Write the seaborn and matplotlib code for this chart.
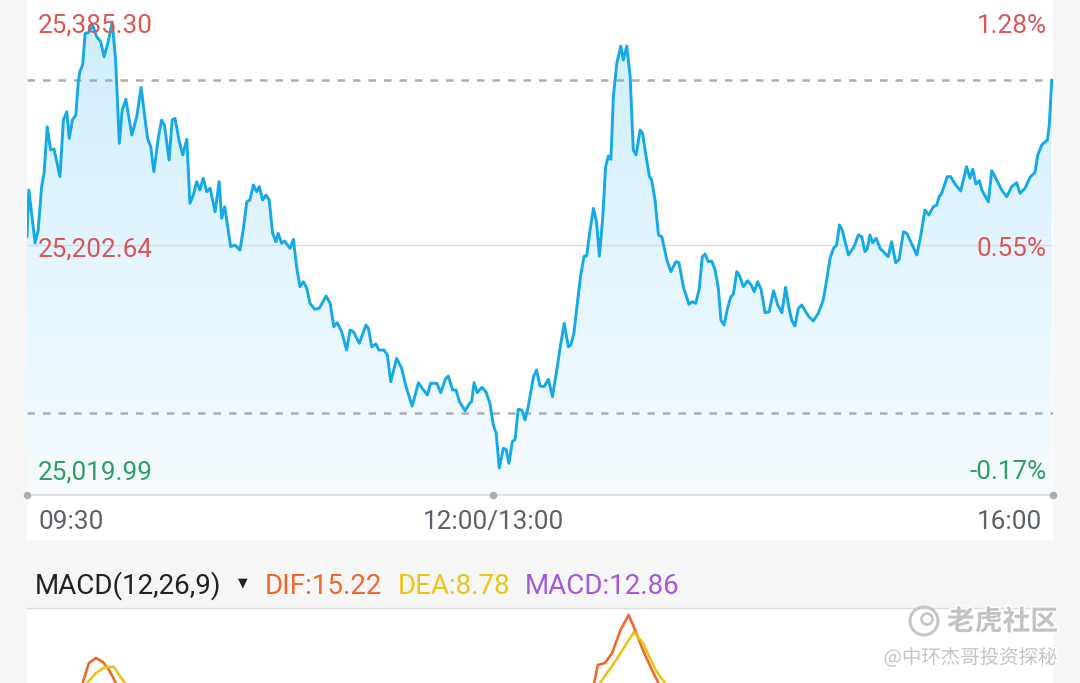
import numpy as np
import pandas as pd
import matplotlib
matplotlib.use("Agg")
import matplotlib.pyplot as plt
import seaborn as sns
from matplotlib.patches import Rectangle, PathPatch, Ellipse
from matplotlib.colors import LinearSegmentedColormap
import matplotlib.patheffects as pe

# ---------------- data ----------------
# minutes since 09:30 (lunch break removed: 150 = 12:00/13:00, 330 = 16:00)
minutes = [0.0, 0.6, 2.6, 3.6, 4.7, 5.5, 6.5, 7.6, 8.7, 10.6, 11.7, 12.8, 13.6, 14.6, 15.7,
           16.5, 17.0, 17.9, 18.7, 19.7, 21.1, 22.4, 23.7, 24.8, 26.0, 27.4, 28.5, 29.7, 30.6,
           31.8, 33.7, 35.3, 36.7, 38.0, 38.8, 39.8, 40.8, 42.2, 43.3, 44.2, 45.7, 46.7, 47.6,
           49.0, 50.1, 51.4, 52.4, 53.5, 54.6, 55.6, 56.7, 57.8, 58.9, 60.5, 61.8, 62.6, 63.6,
           65.5, 66.9, 68.5, 69.6, 70.7, 71.7, 72.8, 73.9, 74.7, 75.8, 76.9, 77.9, 79.0, 80.1,
           80.8, 81.9, 82.8, 84.6, 85.7, 86.7, 87.8, 88.9, 90.0, 91.0, 92.6, 94.0, 96.2, 97.5,
           98.7, 99.8, 101.2, 102.8, 103.9, 105.0, 106.9, 109.0, 109.8, 110.9, 112.2, 113.2,
           114.8, 115.9, 117.0, 118.9, 120.5, 121.9, 123.9, 125.9, 127.5, 128.8, 129.8, 131.8,
           133.1, 134.5, 135.5, 136.9, 138.0, 139.1, 140.9, 142.5, 143.0, 143.8, 144.8, 146.3,
           147.6, 148.9, 150.0, 150.9, 151.9, 153.2, 154.1, 155.0, 156.1, 157.0, 158.0, 159.1,
           160.2, 161.2, 162.9, 163.9, 165.0, 166.3, 167.7, 169.0, 170.4, 171.7, 172.8, 174.1,
           174.9, 175.9, 177.0, 178.1, 179.2, 180.0, 181.1, 182.2, 183.2, 184.1, 185.2, 186.1,
           187.0, 187.8, 188.6, 189.7, 191.0, 191.8, 192.9, 194.0, 195.0, 195.9, 197.2, 198.0,
           198.8, 200.2, 200.9, 202.0, 203.1, 204.2, 205.8, 207.1, 208.7, 209.7, 211.1, 212.9,
           214.0, 215.1, 216.2, 217.2, 218.1, 219.1, 220.2, 221.3, 222.4, 223.2, 224.2, 225.3,
           226.4, 227.2, 228.3, 229.1, 230.4, 231.8, 232.9, 233.9, 235.0, 236.1, 237.4, 238.7,
           240.1, 241.5, 242.8, 244.0, 245.1, 246.0, 247.0, 248.1, 249.2, 251.3, 252.9, 254.5,
           256.1, 257.2, 258.3, 259.4, 260.4, 261.3, 262.2, 264.2, 266.0, 267.4, 268.5, 269.5,
           270.3, 271.1, 272.0, 273.1, 274.4, 277.0, 278.1, 279.4, 280.5, 281.9, 283.0, 286.2,
           287.5, 288.8, 290.1, 291.5, 292.6, 293.4, 294.2, 296.0, 297.1, 298.5, 300.3, 302.2,
           303.3, 304.2, 305.2, 306.3, 307.1, 309.2, 310.3, 311.9, 313.5, 315.1, 316.7, 318.3,
           319.4, 321.0, 322.6, 324.2, 325.1, 326.4, 328.2, 328.8, 329.6]
prices = [25209.4, 25247.7, 25204.3, 25214.9, 25250.4, 25261.6, 25299.5, 25280.5, 25281.3,
          25258.6, 25305.0, 25311.8, 25290.0, 25305.0, 25309.1, 25336.4, 25344.6, 25350.1,
          25376.0, 25376.5, 25382.8, 25373.3, 25369.2, 25356.9, 25367.9, 25385.3, 25354.2,
          25285.9, 25313.2, 25322.0, 25292.7, 25307.7, 25331.8, 25305.0, 25290.0, 25283.2,
          25262.7, 25290.0, 25305.0, 25300.9, 25272.3, 25305.0, 25306.4, 25287.3, 25276.4,
          25289.2, 25236.8, 25243.6, 25254.5, 25247.7, 25257.3, 25246.3, 25249.1, 25229.9,
          25254.5, 25224.5, 25234.0, 25201.3, 25202.6, 25198.5, 25216.3, 25238.1, 25239.5,
          25251.8, 25246.3, 25250.4, 25239.5, 25243.6, 25239.5, 25212.2, 25205.3, 25212.2,
          25204.0, 25205.9, 25199.9, 25207.3, 25184.9, 25168.5, 25172.6, 25167.2, 25154.9,
          25150.0, 25150.8, 25160.9, 25154.9, 25135.7, 25139.0, 25131.6, 25116.6, 25133.0,
          25131.6, 25122.1, 25137.1, 25134.4, 25119.3, 25121.6, 25116.6, 25116.6, 25112.5,
          25090.7, 25109.8, 25101.7, 25086.6, 25070.8, 25089.9, 25083.9, 25079.8, 25089.4,
          25089.4, 25081.7, 25092.6, 25095.3, 25083.9, 25083.9, 25074.3, 25066.9, 25073.5,
          25074.3, 25089.9, 25081.7, 25086.1, 25082.5, 25073.0, 25055.2, 25048.4, 25019.99,
          25036.1, 25035.3, 25023.8, 25041.5, 25043.5, 25068.1, 25067.5, 25059.3, 25070.2,
          25094.8, 25100.3, 25087.2, 25086.6, 25092.6, 25078.4, 25100.3, 25122.1, 25138.5,
          25119.3, 25120.7, 25130.3, 25154.9, 25178.1, 25193.6, 25193.6, 25214.9, 25232.7,
          25220.9, 25193.6, 25225.8, 25266.8, 25275.5, 25272.8, 25324.1, 25351.5, 25365.6,
          25354.2, 25365.6, 25340.5, 25280.5, 25276.4, 25296.8, 25294.1, 25280.5, 25258.6,
          25255.9, 25239.5, 25210.8, 25209.4, 25190.4, 25180.8, 25189.0, 25188.1, 25168.5,
          25154.1, 25156.2, 25154.9, 25166.4, 25193.1, 25195.3, 25189.0, 25189.5, 25182.7,
          25166.4, 25141.2, 25137.1, 25150.8, 25160.3, 25162.3, 25180.8, 25178.1, 25168.5,
          25173.4, 25169.9, 25164.4, 25172.6, 25166.4, 25147.2, 25148.0, 25165.2, 25153.5,
          25147.2, 25168.0, 25150.8, 25140.6, 25136.3, 25150.8, 25153.5, 25144.5, 25140.4,
          25146.7, 25157.6, 25174.0, 25191.8, 25199.9, 25202.6, 25219.0, 25214.9, 25194.5,
          25201.3, 25210.8, 25209.4, 25197.2, 25199.9, 25210.8, 25204.5, 25208.1, 25199.9,
          25193.1, 25205.3, 25188.1, 25190.9, 25213.5, 25212.2, 25194.5, 25210.8, 25231.3,
          25227.2, 25234.0, 25235.4, 25242.2, 25245.0, 25258.6, 25258.6, 25252.6, 25246.9,
          25266.8, 25257.3, 25264.6, 25252.6, 25255.3, 25247.7, 25238.1, 25263.5, 25255.9,
          25247.7, 25242.2, 25250.4, 25253.7, 25245.0, 25249.1, 25258.1, 25262.2, 25276.4,
          25284.6, 25288.7, 25300.9, 25337.8]

prev_close = 25064.7
level_values = [25385.30, 25202.64, 25019.99]
level_labels = ["25,385.30", "25,202.64", "25,019.99"]
pct_labels = ["1.28%", "0.55%", "-0.17%"]
level_colors = ["#dd5656", "#dd5656", "#2f9e63"]
time_ticks = [0, 150, 330]
time_labels = ["09:30", "12:00/13:00", "16:00"]

dif_minutes = [0, 10, 16.5, 17.9, 19.9, 22.2, 24.4, 26.4, 28.6, 30, 60, 100, 140, 170, 180,
               182.4, 183.6, 185.9, 188.2, 190.9, 193.5, 195.2, 198.1, 201.0, 203.1, 205,
               240, 280, 330]
dif_values = [0, 15, 26, 30, 38, 40, 38.4, 35.2, 30, 26, -10, -25, -30, 0, 22,
              30, 37.2, 38, 42, 51.2, 57.2, 52.4, 43.2, 35.2, 30, 26,
              0, 5, 15.22]
dea_minutes = [0, 15, 19.3, 22.2, 25.1, 28.0, 30.1, 31.5, 34, 80, 140, 180, 184.3, 189.5,
               195.2, 198.1, 202.2, 205.2, 208, 260, 330]
dea_values = [0, 20, 30, 34, 36.4, 36.4, 32.4, 30, 27, -10, -20, 20, 30, 39.2,
              50.4, 46, 35.2, 30, 27, 10, 8.78]
macd_title = "MACD(12,26,9)"
macd_items = [("DIF:15.22", "#ee6a2c"), ("DEA:8.78", "#ecc419"), ("MACD:12.86", "#a459d6")]

# ---------------- figure ----------------
sns.set_theme(style="white")
plt.rcParams["font.family"] = ["Roboto", "DejaVu Sans"]

W, H = 1080, 683
BG = "#f6f6f6"
fig = plt.figure(figsize=(W / 100, H / 100), dpi=100, facecolor=BG)

def fx(px):
    return px / W

def fy(py):
    return 1 - py / H

panel = Rectangle((fx(27), fy(540)), (1053 - 27) / W, 540 / H, transform=fig.transFigure,
                  facecolor="white", edgecolor="none", zorder=-5)
fig.patches.append(panel)

ax = fig.add_axes([fx(27), fy(495), (1053 - 27) / W, 495 / H])
ax.set_facecolor("none")
ymin, ymax = 24997.9, 25403.3
ax.set_xlim(0, 330)
ax.set_ylim(ymin, ymax)
for s in ax.spines.values():
    s.set_visible(False)
ax.set_xticks([])
ax.set_yticks([])

df = pd.DataFrame({"minute": minutes, "price": prices})

# gradient area under the line
poly = ax.fill_between(df["minute"], df["price"], ymin, facecolor="none", edgecolor="none")
clip = PathPatch(poly.get_paths()[0], transform=ax.transData, facecolor="none", edgecolor="none")
ax.add_patch(clip)
cmap = LinearSegmentedColormap.from_list("g", ["#f5fbff", "#e3f5fe", "#cdeefb"])
grad = np.linspace(0, 1, 256).reshape(-1, 1)
im = ax.imshow(grad, extent=[0, 330, ymin, ymax], origin="lower", aspect="auto",
               cmap=cmap, zorder=1, interpolation="bicubic")
im.set_clip_path(clip)

# reference lines
ax.axhline(level_values[1], color="#d9d9d9", lw=0.9, zorder=2)
ax.axhline(prev_close, color="#abacb5", lw=1.8, ls=(0, (3.0, 3.2)), zorder=2)
ax.axhline(prices[-1], color="#abacb5", lw=1.8, ls=(0, (3.0, 3.2)), zorder=2)

sns.lineplot(data=df, x="minute", y="price", ax=ax, color="#15aae7", lw=2.1, zorder=4,
             estimator=None, sort=False)
ax.set_xlabel("")
ax.set_ylabel("")

# bottom axis line with dots
ax.axhline(ymin, color="#e2e2e2", lw=1.6, zorder=3, clip_on=False)
dots = ax.scatter(time_ticks, [ymin] * 3, s=30, color="#aeaeae", zorder=5, clip_on=False,
                  linewidths=0)
dots.set_clip_path(panel)

# price / percent labels
for v, lab, pct, c in zip(level_values, level_labels, pct_labels, level_colors):
    ax.annotate(lab, xy=(0, v), xytext=(11, -4), textcoords="offset pixels",
                ha="left", va="center", fontsize=18.8, color=c, zorder=6)
    ax.annotate(pct, xy=(330, v), xytext=(-6, -4), textcoords="offset pixels",
                ha="right", va="center", fontsize=18.8, color=c, zorder=6)

# time labels
for t, lab, ha, dx in zip(time_ticks, time_labels, ["left", "center", "right"], [11, 0, -11]):
    ax.annotate(lab, xy=(t, ymin), xytext=(dx, -27), textcoords="offset pixels",
                ha=ha, va="center", fontsize=18.8, color="#5c606b", annotation_clip=False)

# ---------------- MACD header ----------------
fig.text(fx(35), fy(586), macd_title, ha="left", va="center", fontsize=20, color="#222222")
fig.text(fx(243), fy(583), "\u25BC", ha="center", va="center", fontsize=9, color="#222222",
         family="DejaVu Sans")
for (lab, c), x0 in zip(macd_items, [265, 398, 525]):
    fig.text(fx(x0), fy(586), lab, ha="left", va="center", fontsize=20, color=c)

# ---------------- MACD panel ----------------
ax2 = fig.add_axes([fx(27), 0, (1053 - 27) / W, (683 - 608) / H])
ax2.set_facecolor("white")
ax2.set_xlim(0, 330)
ax2.set_ylim(30, 60)
for k, s in ax2.spines.items():
    s.set_visible(k == "top")
ax2.spines["top"].set_color("#dedede")
ax2.spines["top"].set_linewidth(1.0)
ax2.set_xticks([])
ax2.set_yticks([])
dif_df = pd.DataFrame({"minute": dif_minutes, "v": dif_values})
dea_df = pd.DataFrame({"minute": dea_minutes, "v": dea_values})
sns.lineplot(data=dif_df, x="minute", y="v", ax=ax2, color="#ee6a2c", lw=1.9, estimator=None)
sns.lineplot(data=dea_df, x="minute", y="v", ax=ax2, color="#ecc419", lw=1.9, estimator=None)
ax2.set_xlabel("")
ax2.set_ylabel("")

# ---------------- watermark ----------------
halo = [pe.withStroke(linewidth=2.5, foreground="white")]
fig.text(fx(1058), fy(622), "老虎社区", ha="right", va="center", fontsize=20, color="#c2c2c2",
         family=["Noto Sans CJK SC", "DejaVu Sans"], fontweight="bold", path_effects=halo,
         zorder=10)
fig.patches.append(Ellipse((fx(924), fy(621)), 28 / W, 28 / H, transform=fig.transFigure,
                           facecolor="none", edgecolor="#c6c6c6", lw=2.2, zorder=10))
fig.patches.append(Ellipse((fx(927), fy(619)), 11 / W, 11 / H, transform=fig.transFigure,
                           facecolor="none", edgecolor="#c6c6c6", lw=2.0, zorder=10))
fig.text(fx(1058), fy(658), "@中环杰哥投资探秘", ha="right", va="center", fontsize=14,
         color="#c4c4c4", family=["Noto Sans CJK SC", "DejaVu Sans"], path_effects=halo,
         zorder=10)

fig.savefig("out.png", dpi=100, facecolor=BG)
